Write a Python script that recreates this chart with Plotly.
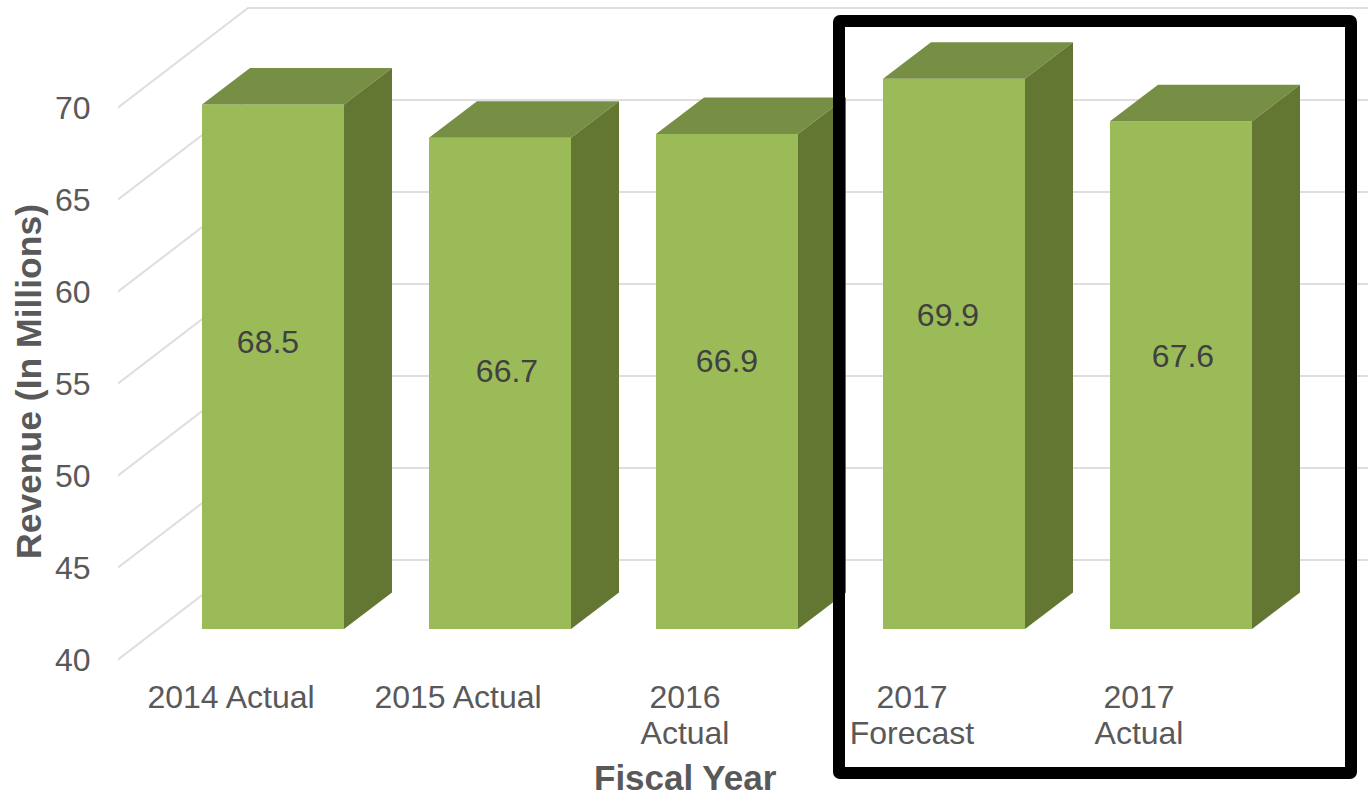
import plotly.graph_objects as go

categories_line1 = ["2014 Actual", "2015 Actual", "2016", "2017", "2017"]
categories_line2 = ["", "", "Actual", "Forecast", "Actual"]
revenue = [68.5, 66.7, 66.9, 69.9, 67.6]
y_ticks = [40, 45, 50, 55, 60, 65, 70]

# --- geometry of the picture (pixels), used only to derive axis ranges ---
W, H = 1368, 797
PLOT_L, PLOT_B = 118, 662
PX_X = 227.0           # pixels per category
PX_Y = 18.4            # pixels per revenue unit
X0_PX, Y40_PX = 231, 629   # x=0 (label centre), y=40 at the bar base
LABEL_Y40_PX = 660     # y=40 on the front edge of the wall
BACK_Y40_PX = 560      # y=40 on the back wall

BAR_W = 142 / PX_X
BAR_SHIFT = 42 / PX_X
DEPTH_X = 48 / PX_X
DEPTH_Y = 36.5 / PX_Y

label_dx_px = [-5, 7, 0, -6, 2]
label_dy_px = [22, 9, 18, 36, 16]

FRONT, TOP, SIDE = "#9BBB59", "#778F44", "#637733"
GRID, TEXT, LABEL = "#DEDEDE", "#595959", "#404040"
FONT = "Liberation Sans, Arial, sans-serif"

x_range = [(PLOT_L - X0_PX) / PX_X, (W - X0_PX) / PX_X]
y_range = [40 - (PLOT_B - Y40_PX) / PX_Y, 40 + Y40_PX / PX_Y]
y2_range = [40 - (PLOT_B - LABEL_Y40_PX) / PX_Y, 40 + LABEL_Y40_PX / PX_Y]
positions = list(range(len(revenue)))
centers = [p + BAR_SHIFT for p in positions]

fig = go.Figure()

# front faces
fig.add_trace(go.Bar(
    x=centers, y=[v - 40 for v in revenue], base=40, width=BAR_W,
    marker=dict(color=FRONT, line=dict(width=0)), showlegend=False, hoverinfo="skip",
))

# top and side faces follow from each value
for c, v in zip(centers, revenue):
    l, r = c - BAR_W / 2, c + BAR_W / 2
    fig.add_trace(go.Scatter(
        x=[l, r, r + DEPTH_X, l + DEPTH_X, l],
        y=[v, v, v + DEPTH_Y, v + DEPTH_Y, v],
        mode="lines", fill="toself", fillcolor=TOP, line=dict(width=0),
        showlegend=False, hoverinfo="skip",
    ))
    fig.add_trace(go.Scatter(
        x=[r, r + DEPTH_X, r + DEPTH_X, r, r],
        y=[v, v + DEPTH_Y, 40 + DEPTH_Y, 40, v],
        mode="lines", fill="toself", fillcolor=SIDE, line=dict(width=0),
        showlegend=False, hoverinfo="skip",
    ))

# value labels
fig.add_trace(go.Scatter(
    x=[c + d / PX_X for c, d in zip(centers, label_dx_px)],
    y=[(40 + v) / 2 + d / PX_Y for v, d in zip(revenue, label_dy_px)],
    mode="text", text=[f"{v:.1f}" for v in revenue],
    textposition="middle center",
    textfont=dict(family=FONT, size=32, color=LABEL),
    showlegend=False, hoverinfo="skip",
))

# invisible trace that activates the tick-label axes
fig.add_trace(go.Scatter(x=positions, y=[40] * 5, xaxis="x2", yaxis="y2", mode="none",
                         showlegend=False, hoverinfo="skip"))

# walls: front edge -> back corner -> along the back wall
shapes = []
wall_front_x = (117.5 - X0_PX) / PX_X
wall_back_x = (248 - X0_PX) / PX_X
for t in y_ticks:
    y_front = t + (Y40_PX - LABEL_Y40_PX) / PX_Y
    y_back = t + (Y40_PX - BACK_Y40_PX) / PX_Y
    shapes.append(dict(type="path", layer="below", xref="x", yref="y",
                       path=f"M {wall_front_x} {y_front} L {wall_back_x} {y_back} L {x_range[1]} {y_back}",
                       line=dict(color=GRID, width=2)))

# highlight frame
def px(xp):
    return (xp - PLOT_L) / (W - PLOT_L)
def py(yp):
    return (PLOT_B - yp) / PLOT_B
a, b, c_, d, r_ = 839, 1351, 21, 773, 1
frame = (f"M {px(a)} {py(c_+r_)} Q {px(a)} {py(c_)} {px(a+r_)} {py(c_)} "
         f"L {px(b-r_)} {py(c_)} Q {px(b)} {py(c_)} {px(b)} {py(c_+r_)} "
         f"L {px(b)} {py(d-r_)} Q {px(b)} {py(d)} {px(b-r_)} {py(d)} "
         f"L {px(a+r_)} {py(d)} Q {px(a)} {py(d)} {px(a)} {py(d-r_)} Z")
shapes.append(dict(type="path", xref="paper", yref="paper", layer="above", path=frame,
                   line=dict(color="#000000", width=12)))

tickfont = dict(family=FONT, size=32, color=TEXT)
fig.update_layout(
    width=W, height=H,
    margin=dict(l=PLOT_L, r=0, t=0, b=H - PLOT_B, pad=0),
    paper_bgcolor="white", plot_bgcolor="rgba(0,0,0,0)",
    showlegend=False, shapes=shapes,
    xaxis=dict(range=x_range, tickmode="array", tickvals=positions, ticktext=categories_line1,
               tickangle=0, tickfont=tickfont, showgrid=False, zeroline=False, showline=False,
               ticks="outside", ticklen=7, tickcolor="rgba(0,0,0,0)"),
    xaxis2=dict(range=x_range, overlaying="x", side="bottom", anchor="y",
                tickmode="array", tickvals=positions[2:], ticktext=categories_line2[2:],
                tickangle=0, tickfont=tickfont, showgrid=False, zeroline=False, showline=False,
                ticks="outside", ticklen=43, tickcolor="rgba(0,0,0,0)"),
    yaxis=dict(range=y_range, visible=False),
    yaxis2=dict(range=y2_range, overlaying="y", side="left", anchor="x",
                tickmode="array", tickvals=y_ticks, tickfont=tickfont,
                showgrid=False, zeroline=False, showline=False,
                ticks="outside", ticklen=20, tickcolor="rgba(0,0,0,0)"),
    annotations=[
        dict(text="<b>Revenue (In Millions)</b>", xref="paper", yref="paper",
             x=px(29), y=py(382), xanchor="center", yanchor="middle",
             showarrow=False, textangle=-90,
             font=dict(family=FONT, size=35.5, color=TEXT)),
        dict(text="<b>Fiscal Year</b>", xref="paper", yref="paper",
             x=px(685), y=py(777), xanchor="center", yanchor="middle", showarrow=False,
             font=dict(family=FONT, size=35, color=TEXT)),
    ],
)

fig.write_html("out.html", config=dict(displayModeBar=False),
               post_script="document.body.style.margin='0';document.body.style.overflow='hidden';")
